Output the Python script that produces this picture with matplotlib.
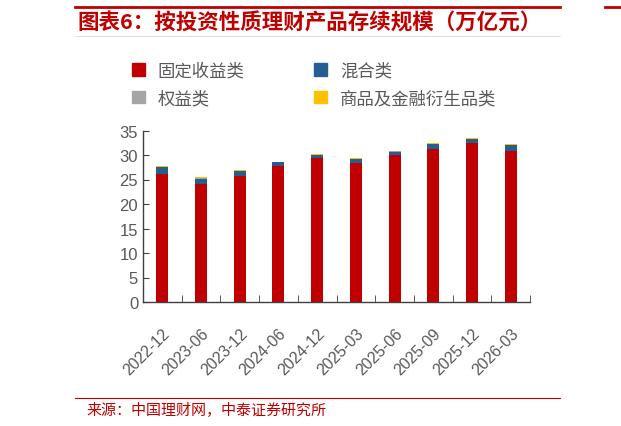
import matplotlib.pyplot as plt
import numpy as np
from matplotlib.patches import Patch
from matplotlib.lines import Line2D

plt.rcParams['font.family'] = ['Liberation Sans', 'Noto Sans CJK SC', 'DejaVu Sans']

periods = ['2022-12', '2023-06', '2023-12', '2024-06', '2024-12',
           '2025-03', '2025-06', '2025-09', '2025-12', '2026-03']
fixed_income = [26.2, 24.1, 25.8, 27.7, 29.3, 28.4, 29.9, 31.3, 32.4, 30.9]
mixed = [1.3, 1.1, 0.9, 0.85, 0.75, 0.8, 0.8, 0.9, 0.9, 1.1]
equity = [0.05, 0.05, 0.05, 0.05, 0.05, 0.05, 0.05, 0.05, 0.05, 0.05]
commodity = [0.2, 0.2, 0.2, 0.05, 0.15, 0.2, 0.15, 0.1, 0.1, 0.15]

names = ['固定收益类', '混合类', '权益类', '商品及金融衍生品类']
colors = ['#C00000', '#255E91', '#A5A5A5', '#FFC000']

fig = plt.figure(figsize=(6.21, 4.27), dpi=100)
ax = fig.add_axes([143/621, 1-303/427, 387/621, 171.5/427])

x = np.arange(len(periods))
bottom = np.zeros(len(periods))
for vals, c in zip([fixed_income, mixed, equity, commodity], colors):
    ax.bar(x, vals, 0.31, bottom=bottom, color=c, linewidth=0)
    bottom += np.array(vals)

ax.set_xlim(-0.5, len(periods)-0.5)
ax.set_ylim(0, 35)
ax.set_yticks(range(0, 36, 5))
ax.spines['top'].set_visible(False)
ax.spines['right'].set_visible(False)
for s in ['left', 'bottom']:
    ax.spines[s].set_color('#404040')
    ax.spines[s].set_linewidth(1.0)
ax.tick_params(axis='y', direction='in', length=4, colors='#404040',
               labelcolor='#595959', labelsize=12)
ax.set_xticks(x)
ax.set_xticklabels(periods, rotation=45, ha='right', rotation_mode='anchor',
                   color='#595959', fontsize=11.5)
ax.tick_params(axis='x', length=0, pad=17)
ax.set_xticks(np.arange(-0.5, len(periods)), minor=True)
ax.tick_params(axis='x', which='minor', direction='in', length=5, color='#404040')

handles = [Patch(color=colors[0]), Patch(color=colors[2]),
           Patch(color=colors[1]), Patch(color=colors[3])]
labels = [names[0], names[2], names[1], names[3]]
fig.legend(handles, labels, ncol=2, loc='upper left',
           bbox_to_anchor=(116/621, 1-47/427), frameon=False,
           handlelength=0.75, handleheight=0.75, handletextpad=0.75,
           columnspacing=4.0, labelspacing=0.55,
           prop={'family': 'Noto Sans CJK SC', 'size': 12.5},
           labelcolor='#595959')

# header and footer
fig.add_artist(Line2D([75/621, 560/621], [1-8/427, 1-8/427], color='#C00000', lw=2))
fig.add_artist(Line2D([605/621, 1], [1-8/427, 1-8/427], color='#C00000', lw=2))
fig.add_artist(Line2D([75/621, 560/621], [1-37/427, 1-37/427], color='#D9D9D9', lw=0.6))
fig.text(77/621, 1-23/427, '图表6：按投资性质理财产品存续规模（万亿元）',
         color='#C00000', fontsize=15.5, fontweight='bold', va='center',
         family=['Noto Sans CJK SC'])
fig.add_artist(Line2D([75/621, 560/621], [1-399/427, 1-399/427], color='#C00000', lw=0.8))
fig.text(86/621, 1-410/427, '来源：中国理财网，中泰证券研究所',
         color='#C00000', fontsize=10.8, va='center', family=['Noto Sans CJK SC'])

fig.savefig('out.png', dpi=100)
